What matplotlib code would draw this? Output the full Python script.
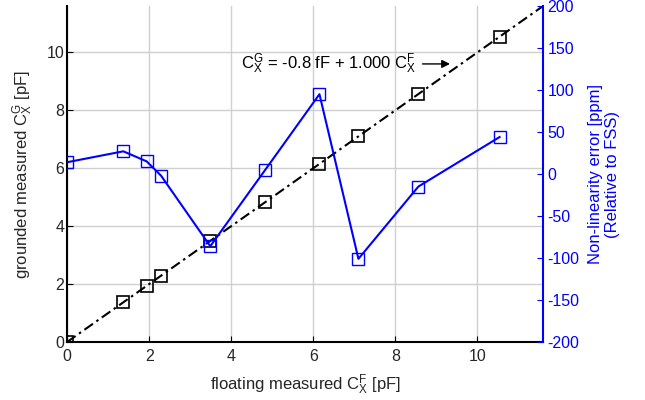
import numpy as np
import matplotlib.pyplot as plt

plt.rcParams['font.family'] = ['Liberation Sans', 'DejaVu Sans']
plt.rcParams['mathtext.fontset'] = 'custom'
plt.rcParams['mathtext.rm'] = 'Liberation Sans'
plt.rcParams['mathtext.it'] = 'Liberation Sans'
plt.rcParams['axes.unicode_minus'] = False
plt.rcParams['font.size'] = 12

# floating measured C_X^F [pF]
cx_float = [0, 1.37, 1.94, 2.29, 3.49, 4.83, 6.15, 7.10, 8.56, 10.54]
# grounded measured C_X^G [pF]
cx_ground = [-0.0008, 1.369, 1.939, 2.289, 3.489, 4.829, 6.149, 7.099, 8.559, 10.539]
# non-linearity error [ppm]
nonlin = [14, 27, 15, -2, -86, 5, 95, -101, -15, 44]

offset = -0.0008
slope = 1.000
xmax = 11.6

fig = plt.figure(figsize=(6.45, 4), dpi=100)
ax = fig.add_axes([0.104, 0.145, 0.738, 0.84])
ax2 = ax.twinx()

xf = np.array([0, xmax])
ax.plot(xf, offset + slope * xf, '-.', color='k', lw=1.5, dashes=(5, 2, 1.2, 2))
ax.plot(cx_float, cx_ground, 's', color='k', mfc='none', ms=8, mew=1.2)

ax2.plot(cx_float, nonlin, '-s', color='#0000ff', mfc='none', ms=8, mew=1.0, lw=1.5)

ax.set_xlim(0, xmax)
ax.set_ylim(0, xmax)
ax.set_xticks(range(0, 11, 2))
ax.set_yticks(range(0, 11, 2))
ax.grid(color='#d0d0d0', lw=1)
ax.set_axisbelow(True)
ax.tick_params(direction='in', length=4, colors='k', labelcolor='#262626', labelsize=11.5)
ax.tick_params(axis='x', pad=5)
ax.tick_params(axis='y', pad=2)
for s in ['top', 'right']:
    ax.spines[s].set_visible(False)
ax.spines['left'].set_linewidth(1.5)
ax.spines['bottom'].set_linewidth(1.5)
ax.set_xlabel(r'floating measured $\mathrm{C_X^F}$ [pF]', color='#262626', labelpad=6)
ax.set_ylabel(r'grounded measured $\mathrm{C_X^G}$ [pF]', color='#262626', labelpad=8)

ax2.set_ylim(-200, 200)
ax2.set_yticks(range(-200, 201, 50))
ax2.tick_params(direction='in', length=4, colors='#0000ff', pad=3, labelsize=11.5)
for s in ['top', 'left', 'bottom']:
    ax2.spines[s].set_visible(False)
ax2.spines['right'].set_color('#0000ff')
ax2.spines['right'].set_linewidth(1.5)
ax2.set_ylabel('Non-linearity error [ppm]\n(Relative to FSS)', color='#0000ff', labelpad=6)

ax.annotate(r'$\mathrm{C_X^G}$ = -0.8 fF + 1.000 $\mathrm{C_X^F}$',
            xy=(9.4, 9.6), xytext=(4.25, 9.6), va='center', ha='left',
            arrowprops=dict(arrowstyle='-|>', color='k', lw=1, mutation_scale=12))

fig.savefig('out.png', dpi=100)
